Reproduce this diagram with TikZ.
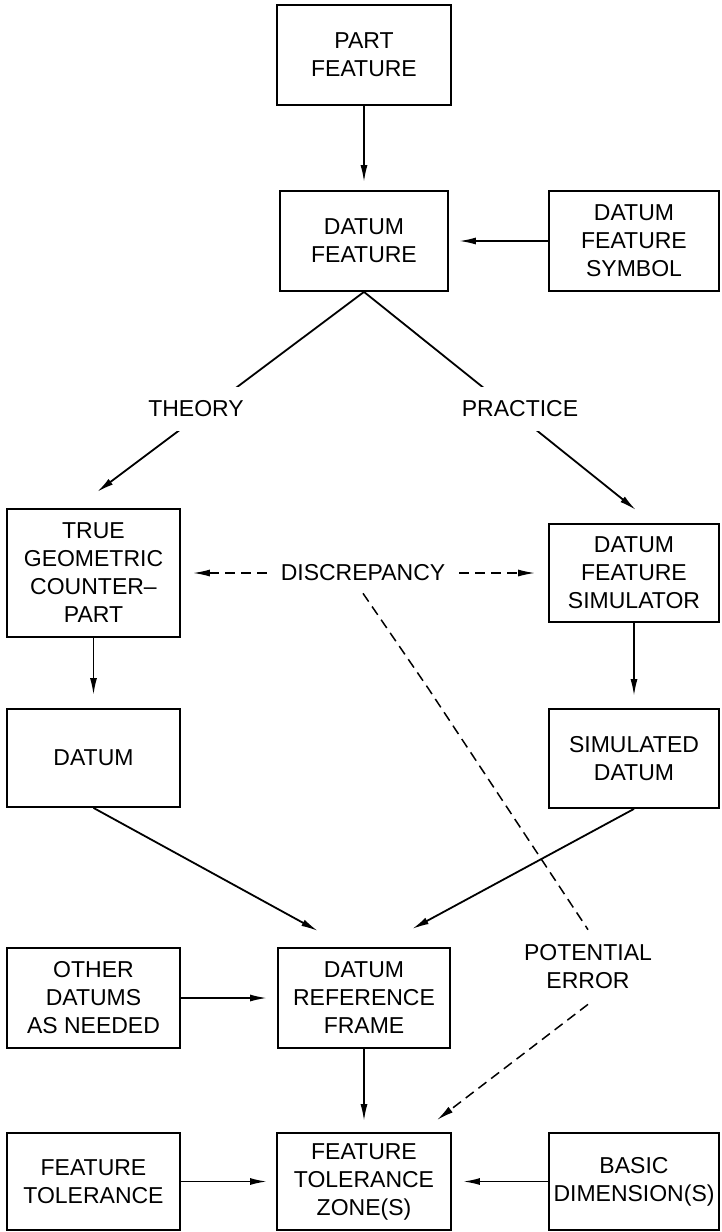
\documentclass[tikz,border=0pt]{standalone}
\usepackage{fontspec}
\setmainfont{Liberation Sans}
\usetikzlibrary{arrows.meta}
\newcommand\lblfont{\fontsize{23}{28}\selectfont}
\tikzset{
  box/.style={draw, line width=1.8pt, align=center, font=\lblfont, inner sep=0pt},
  lab/.style={align=center, font=\lblfont},
  arr/.style={line width=1.8pt, -{Latex[length=17pt,width=7pt]}},
  dsh/.style={line width=1.5pt, dash pattern=on 10pt off 6pt},
  dsharr/.style={dsh, -{Latex[length=17pt,width=7pt]}},
}
\begin{document}
\begin{tikzpicture}[x=1pt,y=-1pt]
\useasboundingbox (0,0) rectangle (721,1232);
% boxes
\node[box, minimum width=174pt, minimum height=100pt] (pf) at (364,55) {PART\\FEATURE};
\node[box, minimum width=168pt, minimum height=100pt] (df) at (364,241) {DATUM\\FEATURE};
\node[box, minimum width=170pt, minimum height=100pt] (dfs) at (634,241) {DATUM\\FEATURE\\SYMBOL};
\node[box, minimum width=173pt, minimum height=128pt] (tgc) at (93.5,573) {TRUE\\GEOMETRIC\\COUNTER--\\PART};
\node[box, minimum width=170pt, minimum height=98pt] (dfsim) at (634,573) {DATUM\\FEATURE\\SIMULATOR};
\node[box, minimum width=173pt, minimum height=98pt] (datum) at (93.5,758) {DATUM};
\node[box, minimum width=170pt, minimum height=99pt] (simd) at (634,758.5) {SIMULATED\\DATUM};
\node[box, minimum width=173pt, minimum height=100pt] (other) at (93.5,998) {OTHER\\DATUMS\\AS NEEDED};
\node[box, minimum width=172pt, minimum height=100pt] (drf) at (364,998) {DATUM\\REFERENCE\\FRAME};
\node[box, minimum width=173pt, minimum height=97pt] (ft) at (93.5,1181.5) {FEATURE\\TOLERANCE};
\node[box, minimum width=174pt, minimum height=97pt] (ftz) at (364,1181.5) {FEATURE\\TOLERANCE\\ZONE(S)};
\node[box, minimum width=170pt, minimum height=97pt] (bd) at (634,1181.5) {BASIC\\DIMENSION(S)};

% free ends
\coordinate (thTip) at (97,492);
\coordinate (prTip) at (636,510);
\coordinate (dTip) at (318,931);
\coordinate (sTip) at (412,929);
\coordinate (kink) at (428,688);
\coordinate (peTip) at (437,1120);

% theory / practice
\draw[arr] (df.south) -- (thTip);
\draw[arr] (df.south) -- (prTip);
\node[lab, fill=white, inner xsep=2pt, minimum height=44pt] (th) at (196,409) {THEORY};
\node[lab, fill=white, inner xsep=2pt, minimum height=44pt] (pr) at (520,409) {PRACTICE};

% solid arrows
\draw[arr, shorten >=8pt] (pf.south) -- (df.north);
\draw[arr, shorten >=10pt] (dfs.west) -- (df.east);
\draw[arr, shorten >=13pt] (tgc.south) -- (datum.north);
\draw[arr, shorten >=12pt] (dfsim.south) -- (simd.north);
\draw[arr] (datum.south) -- (dTip);
\draw[arr] (simd.south) -- (sTip);
\draw[arr, shorten >=10pt] (other.east) -- (drf.west);
\draw[arr, shorten >=11pt] (drf.south) -- (ftz.north);
\draw[arr, shorten >=9pt] (ft.east) -- (ftz.west);
\draw[arr, shorten >=11pt] (bd.west) -- (ftz.east);

% discrepancy
\node[lab, inner xsep=14pt, inner ysep=12pt] (disc) at (363,573) {DISCREPANCY};
\draw[dsharr, shorten >=12pt] (disc.west) -- (tgc.east);
\draw[dsharr, shorten >=13pt] (disc.east) -- (dfsim.west);

% potential error
\node[lab, inner sep=15pt] (pe) at (588,967) {POTENTIAL\\ERROR};
\draw[dsh] (disc.south) -- (kink) -- (pe.north);
\draw[dsharr] (pe.south) -- (peTip);
\end{tikzpicture}
\end{document}
